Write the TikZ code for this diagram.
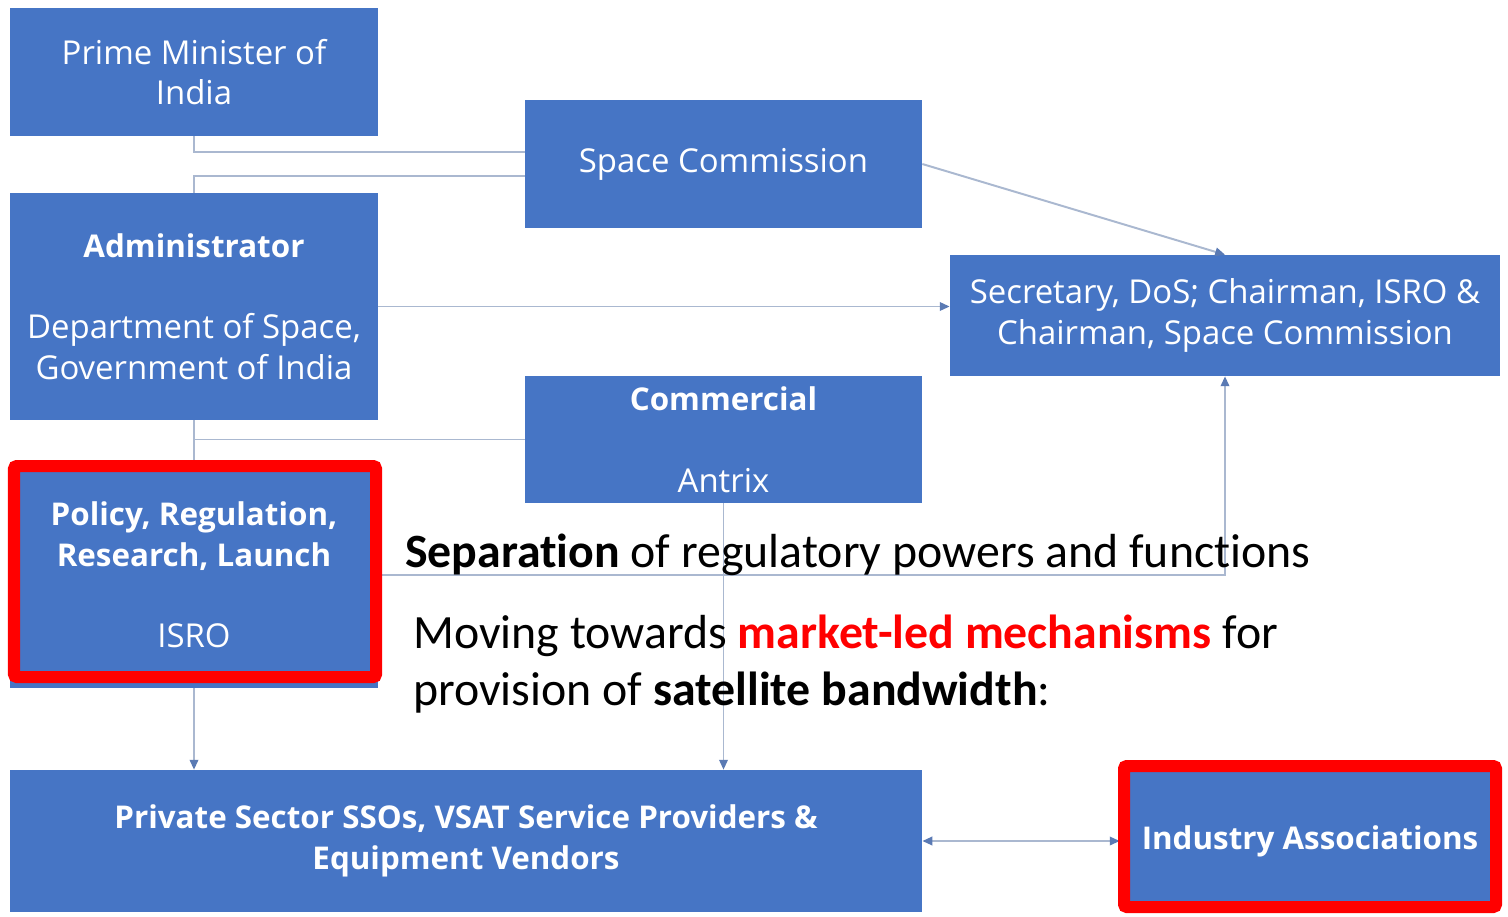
\documentclass[tikz,border=0pt]{standalone}
\usepackage{fontspec}
\setmainfont{Carlito}[Ligatures=NoCommon]
\newfontfamily\boxfont{Open Sans}
\usepackage{tikz}
\usetikzlibrary{arrows.meta}
\definecolor{boxblue}{RGB}{70,117,197}
\definecolor{linkgray}{RGB}{170,184,208}
\definecolor{tipblue}{RGB}{90,122,180}
\definecolor{framered}{RGB}{255,0,0}
\newcommand{\hd}[1]{{\fontsize{22.3}{29}\selectfont\bfseries #1}}

\begin{document}
\begin{tikzpicture}[x=0.025cm,y=-0.025cm,
	box/.style={fill=boxblue, text=white, align=center, inner sep=0pt, font=\boxfont\fontsize{23.4}{29}\selectfont},
	link/.style={draw=linkgray, line width=1.4pt},
	tip/.style={-{Triangle[length=7pt,width=6pt,color=tipblue]}},
	tips/.style={{Triangle[length=7pt,width=6pt,color=tipblue]}-{Triangle[length=7pt,width=6pt,color=tipblue]}},
	frame/.style={draw=framered, line width=0.3cm, rounded corners=2pt},
	note/.style={anchor=base west, inner sep=0pt, font=\fontsize{34}{40}\selectfont}]
	
	\useasboundingbox (0,0) rectangle (1508,916);
	
	% boxes
	\node[box, minimum width=9.2cm, minimum height=3.2cm] (pm) at (194,72) {Prime Minister of\\India};
	\node[box, minimum width=9.925cm, minimum height=3.2cm] (sc) at (723.5,164) {Space Commission};
	\node[box, minimum width=9.2cm, minimum height=5.675cm] (admin) at (194,306.5) {\hd{Administrator}\\[29pt]Department of Space,\\Government of India};
	\node[box, minimum width=13.75cm, minimum height=3.025cm] (sec) at (1225,315.5) {Secretary, DoS; Chairman, ISRO \&\\Chairman, Space Commission};
	\node[box, minimum width=9.925cm, minimum height=3.175cm] (com) at (723.5,439.5) {\hd{Commercial}\\[29pt]Antrix};
	\node[box, minimum width=9.2cm, minimum height=5.65cm] (isro) at (194,575) {\hd{Policy, Regulation,}\\\hd{Research, Launch}\\[29pt]ISRO};
	\node[box, minimum width=22.8cm, minimum height=3.55cm] (priv) at (466,841) {\hd{Private Sector SSOs, VSAT Service Providers \&}\\\hd{Equipment Vendors}};
	\node[box, minimum width=9.3cm, minimum height=3.5cm] (ind) at (1310,841) {\hd{Industry Associations}};
	
	% connectors
	\draw[link] (pm.south) |- ([yshift=0.3cm]sc.west);
	\draw[link] (admin.north) |- ([yshift=-0.3cm]sc.west);
	\draw[link, tip] (sc.east) -- (sec.north);
	\draw[link, tip] (admin.east) -- (admin.east -| sec.west);
	\draw[link] (admin.south) -- (isro.north);
	\draw[link] (com.west) -- (com.west -| admin.south);
	\draw[link, tip] (isro.east) -| (sec.south);
	\draw[link, tip] (isro.south) -- (isro.south |- priv.north);
	\draw[link, tip] (com.south) -- (com.south |- priv.north);
	\draw[link, tips] (priv.east) -- ([xshift=-0.1cm]priv.east -| ind.west);
	
	% highlight frames
	\draw[frame] (14,466) rectangle (376,677);
	\draw[frame] (1124,766) rectangle (1496,907);
	
	% notes
	\node[note] (sep) at (405,567) {\textbf{Separation} of regulatory powers and functions};
	\node[note] (mov) at (413,648) {Moving towards \textcolor{framered}{\textbf{market-led mechanisms}} for};
	\node[note] (prov) at (413,705) {provision of \textbf{satellite bandwidth}:};
\end{tikzpicture}
\end{document}
